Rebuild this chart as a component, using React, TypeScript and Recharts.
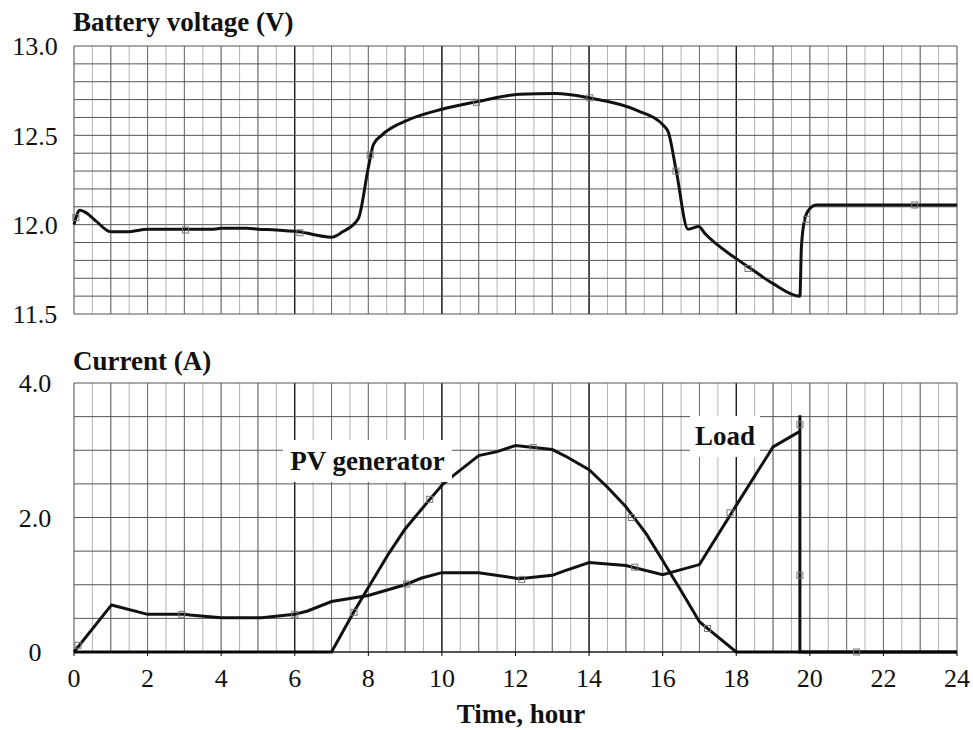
import { ComposedChart, Line, Scatter, XAxis, YAxis, CartesianGrid } from "recharts";

const FONT = '"Liberation Serif", "Times New Roman", serif';

const hourTicks = [0, 2, 4, 6, 8, 10, 12, 14, 16, 18, 20, 22, 24];
const voltageTicks = [11.5, 12.0, 12.5, 13.0];
const currentTicks = [0, 2, 4];
const darkHours = [6, 10, 14, 18];

// battery voltage (V) against time of day (hour)
const voltage = [
  { t: 0, v: 12.0 },
  { t: 0.16, v: 12.08 },
  { t: 0.3, v: 12.07 },
  { t: 0.6, v: 12.02 },
  { t: 1.0, v: 11.96 },
  { t: 1.45, v: 11.96 },
  { t: 2.0, v: 11.975 },
  { t: 3.0, v: 11.975 },
  { t: 3.8, v: 11.975 },
  { t: 4.0, v: 11.98 },
  { t: 4.7, v: 11.98 },
  { t: 5.0, v: 11.975 },
  { t: 5.5, v: 11.97 },
  { t: 6.1, v: 11.96 },
  { t: 7.0, v: 11.93 },
  { t: 7.3, v: 11.96 },
  { t: 7.73, v: 12.035 },
  { t: 8.0, v: 12.32 },
  { t: 8.14, v: 12.45 },
  { t: 8.36, v: 12.5 },
  { t: 9.13, v: 12.59 },
  { t: 10.0, v: 12.646 },
  { t: 11.0, v: 12.69 },
  { t: 12.1, v: 12.73 },
  { t: 13.1, v: 12.734 },
  { t: 14.0, v: 12.71 },
  { t: 15.3, v: 12.64 },
  { t: 16.05, v: 12.55 },
  { t: 16.15, v: 12.52 },
  { t: 16.37, v: 12.3 },
  { t: 16.69, v: 11.975 },
  { t: 16.98, v: 11.99 },
  { t: 17.15, v: 11.95 },
  { t: 18.0, v: 11.81 },
  { t: 18.32, v: 11.765 },
  { t: 19.0, v: 11.67 },
  { t: 19.73, v: 11.6 },
  { t: 19.77, v: 11.87 },
  { t: 19.86, v: 12.03 },
  { t: 20.0, v: 12.09 },
  { t: 20.18, v: 12.11 },
  { t: 24, v: 12.11 },
];

const voltageMarks = [
  { t: 0.05, v: 12.04 },
  { t: 3.03, v: 11.97 },
  { t: 6.14, v: 11.955 },
  { t: 8.05, v: 12.39 },
  { t: 10.94, v: 12.685 },
  { t: 14.02, v: 12.71 },
  { t: 16.36, v: 12.3 },
  { t: 18.32, v: 11.755 },
  { t: 19.91, v: 12.03 },
  { t: 22.85, v: 12.11 },
];

// load current (A)
const load = [
  { t: 0, v: 0 },
  { t: 1.02, v: 0.7 },
  { t: 2.0, v: 0.56 },
  { t: 3.0, v: 0.56 },
  { t: 3.15, v: 0.55 },
  { t: 4.0, v: 0.51 },
  { t: 5.1, v: 0.51 },
  { t: 6.0, v: 0.56 },
  { t: 6.35, v: 0.61 },
  { t: 7.0, v: 0.75 },
  { t: 8.0, v: 0.84 },
  { t: 9.0, v: 1.0 },
  { t: 9.45, v: 1.1 },
  { t: 10.0, v: 1.18 },
  { t: 11.0, v: 1.18 },
  { t: 12.1, v: 1.09 },
  { t: 13.0, v: 1.14 },
  { t: 13.35, v: 1.21 },
  { t: 14.0, v: 1.33 },
  { t: 15.0, v: 1.285 },
  { t: 16.0, v: 1.15 },
  { t: 17.0, v: 1.3 },
  { t: 18.0, v: 2.18 },
  { t: 19.0, v: 3.05 },
  { t: 19.73, v: 3.28 },
  { t: 19.73, v: 3.52 },
  { t: 19.73, v: 0 },
  { t: 24, v: 0 },
];

const loadMarks = [
  { t: 0.11, v: 0.1 },
  { t: 2.93, v: 0.56 },
  { t: 6.0, v: 0.56 },
  { t: 9.04, v: 1.01 },
  { t: 12.17, v: 1.08 },
  { t: 15.24, v: 1.26 },
  { t: 17.83, v: 2.07 },
  { t: 19.73, v: 3.38 },
  { t: 19.73, v: 1.14 },
  { t: 21.27, v: 0 },
];

// PV generator current (A)
const pv = [
  { t: 0, v: 0 },
  { t: 7.0, v: 0 },
  { t: 7.6, v: 0.59 },
  { t: 8.0, v: 0.96 },
  { t: 8.55, v: 1.46 },
  { t: 9.0, v: 1.83 },
  { t: 9.67, v: 2.27 },
  { t: 10.0, v: 2.48 },
  { t: 10.3, v: 2.62 },
  { t: 11.0, v: 2.92 },
  { t: 11.5, v: 2.98 },
  { t: 12.0, v: 3.07 },
  { t: 12.5, v: 3.04 },
  { t: 13.0, v: 3.01 },
  { t: 13.4, v: 2.9 },
  { t: 14.0, v: 2.71 },
  { t: 14.5, v: 2.45 },
  { t: 15.0, v: 2.16 },
  { t: 15.55, v: 1.76 },
  { t: 16.0, v: 1.36 },
  { t: 16.5, v: 0.91 },
  { t: 17.0, v: 0.45 },
  { t: 17.2, v: 0.36 },
  { t: 18.0, v: 0 },
  { t: 24, v: 0 },
];

const pvMarks = [
  { t: 7.61, v: 0.59 },
  { t: 9.67, v: 2.27 },
  { t: 12.48, v: 3.04 },
  { t: 15.15, v: 2.0 },
  { t: 17.22, v: 0.35 },
];

const halfHours: number[] = [];
for (let i = 0; i <= 48; i++) halfHours.push(i / 2);
const wholeHours = halfHours.filter((h) => Number.isInteger(h));
const voltLines: number[] = [];
for (let i = 0; i <= 15; i++) voltLines.push(Math.round((11.5 + i * 0.1) * 10) / 10);
const ampLines: number[] = [];
for (let i = 0; i <= 8; i++) ampLines.push(i * 0.5);

const fmt = (v: number) => (v === 0 ? "0" : v.toFixed(1));

// recharts 3 may hand the grid either a d3 scale function or a wrapper with .map()
const scaleOf = (axis: any) => {
  const s = axis && axis.scale;
  if (!s) return null;
  if (typeof s === "function") return (v: number) => s(v);
  if (typeof s.map === "function") return (v: number) => s.map(v);
  return null;
};

const xLines = (hours: number[]) => (p: any) => {
  const s = scaleOf(p.xAxis);
  return s ? hours.map((h) => s(h)).filter((x: any) => Number.isFinite(x)) : [];
};
const yLines = (vals: number[]) => (p: any) => {
  const s = scaleOf(p.yAxis);
  return s ? vals.map((v) => s(v)).filter((y: any) => Number.isFinite(y)) : [];
};

const square = (props: any) => (
  <rect
    x={props.cx - 3}
    y={props.cy - 3}
    width={6}
    height={6}
    fill="none"
    stroke="#777"
    strokeWidth={1}
  />
);

const tickStyle = { fontSize: 26, fontFamily: FONT, fill: "#111" };

function grids(rows: number[]) {
  return [
    <CartesianGrid
      key="half"
      horizontal={false}
      stroke="#b4b4b4"
      verticalCoordinatesGenerator={xLines(halfHours)}
    />,
    <CartesianGrid
      key="whole"
      horizontal={false}
      stroke="#6e6e6e"
      verticalCoordinatesGenerator={xLines(wholeHours)}
    />,
    <CartesianGrid
      key="dark"
      horizontal={false}
      stroke="#000"
      verticalCoordinatesGenerator={xLines(darkHours)}
    />,
    <CartesianGrid
      key="rows"
      vertical={false}
      stroke="#555"
      horizontalCoordinatesGenerator={yLines(rows)}
    />,
  ];
}

const boldText = {
  position: "absolute" as const,
  fontFamily: FONT,
  fontWeight: 700,
  fontSize: 27,
  lineHeight: 1,
  color: "#111",
  whiteSpace: "nowrap" as const,
};

export default function App() {
  return (
    <div
      style={{
        position: "absolute",
        left: 0,
        top: 0,
        width: 973,
        height: 730,
        background: "#fff",
        overflow: "hidden",
      }}
    >
      <div style={{ position: "absolute", left: 0, top: 0 }}>
        <ComposedChart
          width={973}
          height={330}
          margin={{ top: 46, right: 16, bottom: 16, left: 0 }}
        >
          <XAxis dataKey="t" type="number" domain={[0, 24]} hide />
          <YAxis
            type="number"
            domain={[11.5, 13]}
            ticks={voltageTicks}
            width={74}
            axisLine={false}
            tickLine={false}
            tickSize={0}
            tickMargin={39}
            tickFormatter={fmt}
            tick={{ ...tickStyle, textAnchor: "middle" }}
          />
          {grids(voltLines)}
          <Line
            data={voltage}
            dataKey="v"
            type="monotone"
            stroke="#111"
            strokeWidth={3}
            dot={false}
            activeDot={false}
            isAnimationActive={false}
          />
          <Scatter
            data={voltageMarks}
            dataKey="v"
            shape={square}
            isAnimationActive={false}
          />
        </ComposedChart>
      </div>

      <div style={{ position: "absolute", left: 0, top: 330 }}>
        <ComposedChart
          width={973}
          height={400}
          margin={{ top: 53, right: 16, bottom: 0, left: 0 }}
        >
          <XAxis
            dataKey="t"
            type="number"
            domain={[0, 24]}
            ticks={hourTicks}
            height={78}
            axisLine={{ stroke: "#000" }}
            tickLine={{ stroke: "#000" }}
            tickSize={4}
            tickMargin={13}
            tick={tickStyle}
            interval={0}
          />
          <YAxis
            type="number"
            domain={[0, 4]}
            ticks={currentTicks}
            width={74}
            axisLine={false}
            tickLine={false}
            tickSize={0}
            tickMargin={39}
            tickFormatter={fmt}
            tick={{ ...tickStyle, textAnchor: "middle" }}
          />
          {grids(ampLines)}
          <Line
            data={pv}
            dataKey="v"
            type="linear"
            stroke="#111"
            strokeWidth={3}
            dot={false}
            activeDot={false}
            isAnimationActive={false}
          />
          <Line
            data={load}
            dataKey="v"
            type="linear"
            stroke="#111"
            strokeWidth={3}
            dot={false}
            activeDot={false}
            isAnimationActive={false}
          />
          <Scatter
            data={loadMarks}
            dataKey="v"
            shape={square}
            isAnimationActive={false}
          />
          <Scatter
            data={pvMarks}
            dataKey="v"
            shape={square}
            isAnimationActive={false}
          />
        </ComposedChart>
      </div>

      <div style={{ ...boldText, left: 73, top: 9 }}>Battery voltage (V)</div>
      <div style={{ ...boldText, left: 73, top: 348 }}>Current (A)</div>
      <div
        style={{
          ...boldText,
          left: 421,
          top: 700,
          width: 200,
          lineHeight: "28px",
          textAlign: "center",
        }}
      >
        Time, hour
      </div>
      <div
        style={{
          ...boldText,
          left: 283,
          top: 440,
          width: 169,
          height: 42,
          background: "#fff",
          display: "flex",
          alignItems: "center",
          justifyContent: "center",
        }}
      >
        PV generator
      </div>
      <div
        style={{
          ...boldText,
          left: 690,
          top: 416,
          width: 70,
          height: 41,
          background: "#fff",
          display: "flex",
          alignItems: "center",
          justifyContent: "center",
        }}
      >
        Load
      </div>
    </div>
  );
}
